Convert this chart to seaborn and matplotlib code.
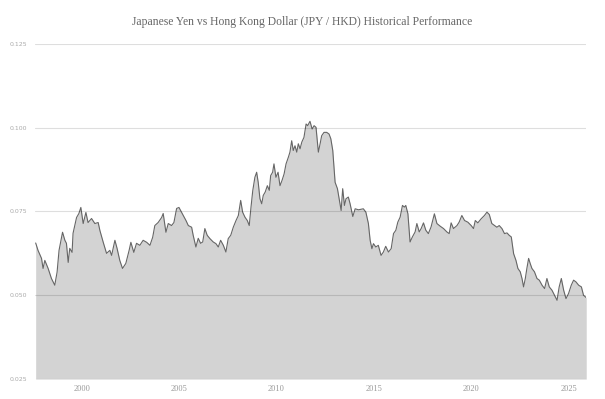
import numpy as np
import pandas as pd
import matplotlib
matplotlib.use("Agg")
import matplotlib.pyplot as plt
import seaborn as sns

# JPY/HKD rate (decimal years)
years = [
    1997.63, 1997.75, 1997.93, 1998.01, 1998.10, 1998.27, 1998.44, 1998.61, 1998.73, 1998.83,
    1999.01, 1999.13, 1999.21, 1999.30, 1999.38, 1999.50, 1999.55, 1999.73, 1999.85, 1999.95,
    2000.07, 2000.21, 2000.32, 2000.50, 2000.67, 2000.84, 2000.93, 2001.10, 2001.27, 2001.44,
    2001.53, 2001.70, 2001.81, 2001.95, 2002.09, 2002.26, 2002.43, 2002.52, 2002.67, 2002.81,
    2002.98, 2003.15, 2003.33, 2003.50, 2003.64, 2003.75, 2003.92, 2004.10, 2004.18, 2004.32,
    2004.44, 2004.61, 2004.73, 2004.87, 2004.99, 2005.21, 2005.35, 2005.47, 2005.64, 2005.72,
    2005.86, 2005.98, 2006.10, 2006.21, 2006.32, 2006.44, 2006.58, 2006.75, 2006.89, 2007.01,
    2007.13, 2007.27, 2007.40, 2007.52, 2007.65, 2007.78, 2007.92, 2008.04, 2008.16, 2008.26,
    2008.38, 2008.50, 2008.60, 2008.69, 2008.78, 2008.89, 2008.98, 2009.06, 2009.15, 2009.24,
    2009.32, 2009.42, 2009.53, 2009.63, 2009.70, 2009.80, 2009.87, 2009.97, 2010.08, 2010.18,
    2010.28, 2010.39, 2010.49, 2010.61, 2010.69, 2010.78, 2010.86, 2010.95, 2011.04, 2011.12,
    2011.21, 2011.30, 2011.41, 2011.52, 2011.60, 2011.72, 2011.83, 2011.93, 2012.03, 2012.15,
    2012.24, 2012.32, 2012.44, 2012.58, 2012.70, 2012.79, 2012.89, 2013.01, 2013.13, 2013.23,
    2013.32, 2013.40, 2013.49, 2013.57, 2013.69, 2013.78, 2013.92, 2014.04, 2014.21, 2014.46,
    2014.59, 2014.72, 2014.81, 2014.90, 2014.98, 2015.10, 2015.23, 2015.37, 2015.49, 2015.61,
    2015.75, 2015.89, 2016.01, 2016.13, 2016.23, 2016.35, 2016.47, 2016.57, 2016.64, 2016.75,
    2016.86, 2016.98, 2017.12, 2017.21, 2017.33, 2017.43, 2017.55, 2017.67, 2017.80, 2017.94,
    2018.11, 2018.24, 2018.41, 2018.58, 2018.75, 2018.87, 2018.97, 2019.09, 2019.27, 2019.38,
    2019.52, 2019.66, 2019.83, 2020.00, 2020.12, 2020.21, 2020.34, 2020.51, 2020.68, 2020.81,
    2020.93, 2021.06, 2021.20, 2021.32, 2021.44, 2021.58, 2021.71, 2021.84, 2021.95, 2022.06,
    2022.18, 2022.30, 2022.40, 2022.52, 2022.61, 2022.69, 2022.78, 2022.86, 2022.95, 2023.03,
    2023.12, 2023.25, 2023.38, 2023.50, 2023.64, 2023.77, 2023.89, 2024.01, 2024.15, 2024.28,
    2024.41, 2024.52, 2024.63, 2024.75, 2024.87, 2025.00, 2025.14, 2025.26, 2025.38, 2025.52,
    2025.66, 2025.77, 2025.91,
]
rate = [
    0.0656, 0.0634, 0.0610, 0.0580, 0.0604, 0.0580, 0.0550, 0.0530, 0.0569, 0.0634,
    0.0688, 0.0664, 0.0655, 0.0598, 0.0640, 0.0628, 0.0685, 0.0732, 0.0744, 0.0762,
    0.0714, 0.0747, 0.0717, 0.0729, 0.0714, 0.0717, 0.0693, 0.0658, 0.0625, 0.0634,
    0.0619, 0.0664, 0.0640, 0.0604, 0.0580, 0.0595, 0.0634, 0.0658, 0.0628, 0.0655,
    0.0649, 0.0664, 0.0658, 0.0649, 0.0673, 0.0708, 0.0717, 0.0732, 0.0744, 0.0688,
    0.0714, 0.0708, 0.0717, 0.0759, 0.0762, 0.0738, 0.0723, 0.0708, 0.0703, 0.0679,
    0.0644, 0.0670, 0.0655, 0.0659, 0.0699, 0.0679, 0.0669, 0.0659, 0.0654, 0.0644,
    0.0664, 0.0649, 0.0629, 0.0669, 0.0679, 0.0703, 0.0723, 0.0738, 0.0783, 0.0748,
    0.0733, 0.0723, 0.0708, 0.0763, 0.0812, 0.0852, 0.0867, 0.0837, 0.0788, 0.0773,
    0.0798, 0.0808, 0.0827, 0.0813, 0.0857, 0.0867, 0.0892, 0.0852, 0.0867, 0.0827,
    0.0842, 0.0862, 0.0892, 0.0912, 0.0927, 0.0961, 0.0932, 0.0946, 0.0927, 0.0952,
    0.0937, 0.0957, 0.0971, 0.1011, 0.1006, 0.1019, 0.0996, 0.1006, 0.1001, 0.0927,
    0.0952, 0.0976, 0.0986, 0.0986, 0.0981, 0.0967, 0.0932, 0.0837, 0.0818, 0.0783,
    0.0753, 0.0818, 0.0768, 0.0788, 0.0793, 0.0773, 0.0735, 0.0758, 0.0755, 0.0758,
    0.0748, 0.0714, 0.0664, 0.0639, 0.0654, 0.0644, 0.0649, 0.0619, 0.0629, 0.0646,
    0.0629, 0.0639, 0.0684, 0.0694, 0.0718, 0.0733, 0.0768, 0.0763, 0.0768, 0.0743,
    0.0659, 0.0674, 0.0689, 0.0714, 0.0689, 0.0699, 0.0716, 0.0694, 0.0684, 0.0704,
    0.0743, 0.0714, 0.0706, 0.0699, 0.0689, 0.0684, 0.0716, 0.0699, 0.0708, 0.0718,
    0.0738, 0.0723, 0.0718, 0.0708, 0.0699, 0.0723, 0.0716, 0.0728, 0.0738, 0.0748,
    0.0741, 0.0714, 0.0708, 0.0703, 0.0708, 0.0699, 0.0684, 0.0686, 0.0679, 0.0674,
    0.0624, 0.0604, 0.0580, 0.0570, 0.0550, 0.0525, 0.0550, 0.0580, 0.0610, 0.0595,
    0.0580, 0.0570, 0.0550, 0.0545, 0.0530, 0.0520, 0.0550, 0.0525, 0.0515, 0.0500,
    0.0485, 0.0525, 0.0550, 0.0515, 0.0490, 0.0505, 0.0530, 0.0545, 0.0540, 0.0530,
    0.0525, 0.0500, 0.0493,
]
xticks = [2000, 2005, 2010, 2015, 2020, 2025]
yticks = [0.025, 0.050, 0.075, 0.100, 0.125]

df = pd.DataFrame({"year": years, "rate": rate})

sns.set_style("white")
plt.rcParams["font.family"] = ["Liberation Serif", "DejaVu Serif"]

fig = plt.figure(figsize=(6.05, 3.99), dpi=100)
ax = fig.add_axes([0.058, 0.05, 0.911, 0.84])

ax.fill_between(df["year"], df["rate"], 0.025, color="#d3d3d3", lw=0, zorder=1)
sns.lineplot(data=df, x="year", y="rate", ax=ax, color="#666666", lw=0.8, zorder=2)

for v in yticks:
    ax.axhline(v, color="black", alpha=0.13, lw=0.8, zorder=3)

ax.set_xlim(1997.6, 2025.91)
ax.set_ylim(0.025, 0.125)
ax.set_xticks(xticks)
ax.set_xticklabels([str(t) for t in xticks], fontsize=6, color="#999999")
ax.set_yticks(yticks)
ax.set_yticklabels([f"{t:.3f}" for t in yticks], fontsize=4.5, color="#aaaaaa",
                   family="DejaVu Sans")
ax.tick_params(length=0, pad=4)
ax.tick_params(axis="y", pad=6)
ax.set_xlabel("")
ax.set_ylabel("")
for s in ax.spines.values():
    s.set_visible(False)

fig.suptitle("Japanese Yen vs Hong Kong Dollar (JPY / HKD) Historical Performance",
             x=0.5, y=0.96, fontsize=8.4, color="#666666")

fig.savefig("out.png", dpi=100)
